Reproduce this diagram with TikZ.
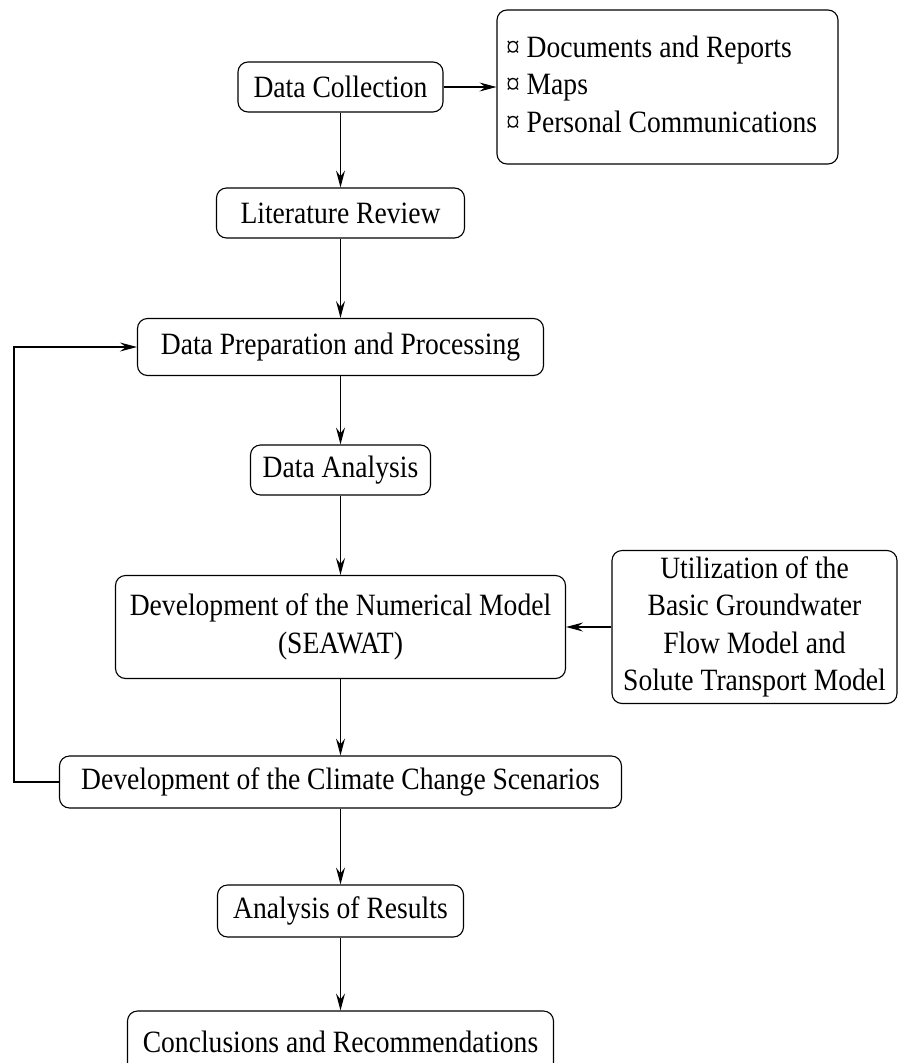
\documentclass[tikz,border=0pt]{standalone}
\usepackage{fontspec}
\setmainfont{Liberation Serif}[FakeStretch=0.89]
\usetikzlibrary{arrows.meta}
\begin{document}
\begin{tikzpicture}[x=1pt,y=-1pt,
  box/.style={draw, line width=1.1pt, rounded corners=10pt, inner sep=0pt,
    align=center, font=\fontsize{31}{37.5}\selectfont},
  arr/.style={line width=1.1pt, -{Stealth[length=17pt,width=9pt,inset=6pt]}},
  ln/.style={line width=1.1pt}]
\useasboundingbox (0,0) rectangle (898,1063);
\node[box, minimum width=205pt, minimum height=50pt] (dc) at (340.5,87) {Data Collection};
\node[box, minimum width=341pt, minimum height=154pt] (docs) at (667.5,87)
  {\makebox[323pt][l]{\raisebox{-3pt}{\begin{tabular}{@{}l@{}}¤ Documents and Reports\\¤ Maps\\¤ Personal Communications\end{tabular}}}};
\node[box, minimum width=248pt, minimum height=50pt] (lr) at (340.5,213) {Literature Review};
\node[box, minimum width=406pt, minimum height=57pt] (dp) at (340.5,347) {Data Preparation and Processing};
\node[box, minimum width=180pt, minimum height=50pt] (da) at (340.5,470) {Data Analysis};
\node[box, minimum width=450pt, minimum height=103pt] (nm) at (340.5,627) {Development of the Numerical Model\\(SEAWAT)};
\node[box, minimum width=285pt, minimum height=153pt] (ut) at (754.5,627) {Utilization of the\\Basic Groundwater\\Flow Model and\\Solute Transport Model};
\node[box, minimum width=562pt, minimum height=52pt] (cc) at (340.5,782) {Development of the Climate Change Scenarios};
\node[box, minimum width=246pt, minimum height=52pt] (ar) at (340.5,911) {Analysis of Results};
\node[box, minimum width=426pt, minimum height=62pt] (cr) at (340.5,1042) {Conclusions and Recommendations};
\coordinate (fbb) at (14,782);
\coordinate (fbt) at (14,347);
\draw[arr] (dc.east) -- (docs.west);
\draw[arr] (dc.south) -- (lr.north);
\draw[arr] (lr.south) -- (dp.north);
\draw[arr] (dp.south) -- (da.north);
\draw[arr] (da.south) -- (nm.north);
\draw[arr] (ut.west) -- (nm.east);
\draw[arr] (nm.south) -- (cc.north);
\draw[arr] (cc.south) -- (ar.north);
\draw[arr] (ar.south) -- (cr.north);
\draw[arr] (cc.west) -- (fbb) -- (fbt) -- (dp.west);
\end{tikzpicture}
\end{document}
